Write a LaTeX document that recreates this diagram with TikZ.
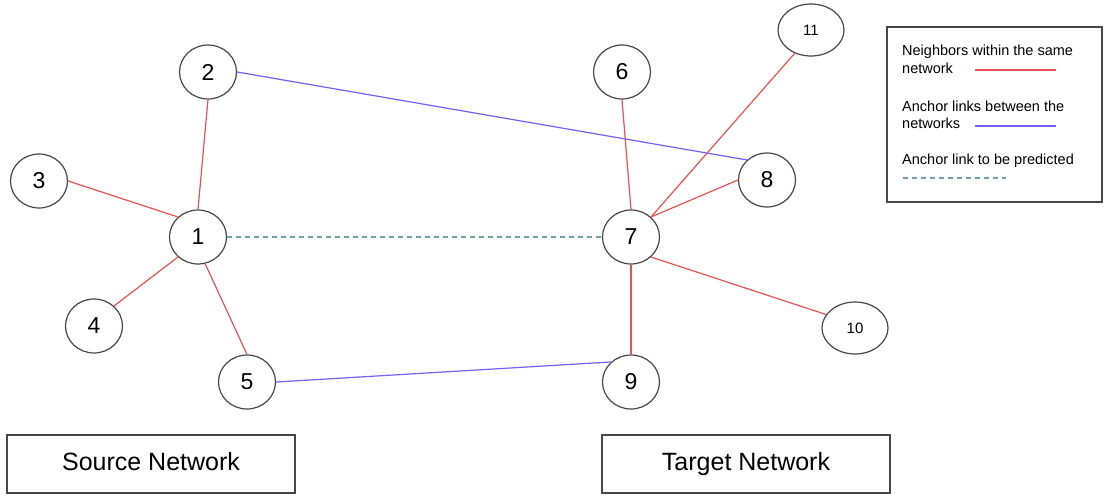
\documentclass[tikz,border=0pt]{standalone}
\usepackage{fontspec}
\setmainfont{Liberation Sans}
\usetikzlibrary{shapes.geometric}
\definecolor{samered}{RGB}{232,82,82}
\definecolor{anchorblue}{RGB}{122,92,250}
\definecolor{predteal}{RGB}{112,160,168}
\definecolor{rimgray}{RGB}{72,72,72}
\tikzset{
 vertex/.style={ellipse,draw=rimgray,line width=1.2pt,fill=white,minimum width=57pt,minimum height=54pt,inner sep=0pt,font=\fontsize{23}{25}\selectfont},
 bigvertex/.style={vertex,minimum width=66pt,minimum height=52pt,font=\fontsize{15}{17}\selectfont},
 netbox/.style={draw=rimgray,line width=1.3pt,minimum width=288pt,minimum height=58pt,text height=18pt,text depth=5pt,font=\fontsize{25}{28}\selectfont},
 samenet/.style={samered,line width=1.2pt},
 anchorlink/.style={anchorblue,line width=1.2pt},
 predicted/.style={predteal,line width=1.3pt,dash pattern=on 5pt off 4pt},
 legtext/.style={anchor=base west,inner sep=0pt,font=\fontsize{14.5}{17}\selectfont},
}
\newcommand{\netnode}[3]{%
 \node[vertex] ({#1}) at ({#2}) {#3};%
}
\begin{document}
\begin{tikzpicture}[x=1pt,y=-1pt]
  \useasboundingbox (0,0) rectangle (1107,495);
  % source network
  \netnode{n1}{198,237}{1};
  \netnode{n2}{208,72}{2};
  \netnode{n3}{39,181}{3};
  \netnode{n4}{94,326}{4};
  \netnode{n5}{247,382}{5};
  % target network
  \netnode{n6}{622,72}{6};
  \netnode{n7}{631,237}{7};
  \netnode{n8}{767,180}{8};
  \netnode{n9}{631,382}{9};
  \node[bigvertex] (n10) at (855,328) {10};
  \node[bigvertex] (n11) at (811,30) {11};
  \node[netbox] (src) at (151,464) {Source Network};
  \node[netbox] (tgt) at (746,464) {Target Network};
  % links
  \draw[samenet] (n1.north) -- (n2.south);
  \draw[samenet] (n1.135) -- (n3.east);
  \draw[samenet] (n1.-135) -- (n4.45);
  \draw[samenet] (n1.-75) -- (n5.north);
  \draw[samenet] (n7.north) -- (n6.south);
  \draw[samenet] (n7.45) -- (n8.west);
  \draw[samenet] (n7.south) -- (n9.north);
  \draw[samenet] (n7.-45) -- (n10.155);
  \draw[samenet] (n7.45) -- (n11.-125);
  \draw[anchorlink] (n2.east) -- (n8.135);
  \draw[anchorlink] (n5.east) -- (n9.135);
  \draw[predicted] (n1.east) -- (n7.west);
  % legend
  \draw[rimgray,line width=1.3pt] (887,27) rectangle (1102,202);
  \node[legtext] (lega) at (902,56) {Neighbors within the same};
  \node[legtext] (legb) at (902,74) {network};
  \node[legtext] (legc) at (902,111) {Anchor links between the};
  \node[legtext] (legd) at (902,128) {networks};
  \node[legtext] (lege) at (902,164) {Anchor link to be predicted};
  \coordinate (reda) at (975,70);  \coordinate (redb) at (1056,70);
  \coordinate (blua) at (975,126); \coordinate (blub) at (1056,126);
  \coordinate (pra) at (903,178);  \coordinate (prb) at (1006,178);
  \draw[samenet] (reda) -- (redb);
  \draw[anchorlink] (blua) -- (blub);
  \draw[predicted] (pra) -- (prb);
\end{tikzpicture}
\end{document}
